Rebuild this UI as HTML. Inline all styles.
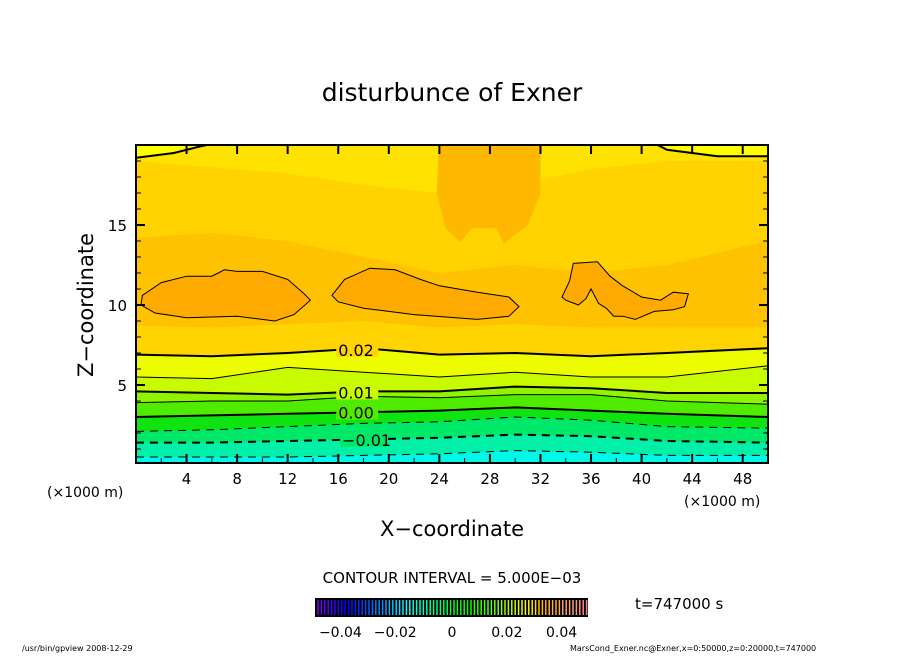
<!DOCTYPE html>
<html><head><meta charset="utf-8"><style>
body{margin:0;background:#fff;width:904px;height:654px;overflow:hidden}
svg text{font-family:"DejaVu Sans","Liberation Sans",sans-serif;fill:#000}
</style></head><body>
<svg id="chart" width="904" height="654" viewBox="0 0 904 654" xmlns="http://www.w3.org/2000/svg">
<defs><clipPath id="pc"><rect x="136" y="145" width="632" height="318"/></clipPath></defs>
<g id="field" clip-path="url(#pc)"></g>
<g id="axes"></g>
<text x="452" y="101" font-size="25" text-anchor="middle">disturbunce of Exner</text>
<text transform="translate(93,305) rotate(-90)" font-size="21" text-anchor="middle">Z−coordinate</text>
<text x="452" y="536" font-size="21" text-anchor="middle">X−coordinate</text>
<text x="47" y="497" font-size="14">(×1000 m)</text>
<text x="684" y="506" font-size="14">(×1000 m)</text>
<text x="452" y="583" font-size="15" text-anchor="middle">CONTOUR INTERVAL = 5.000E−03</text>
<text x="635" y="609" font-size="15">t=747000 s</text>
<rect x="315" y="598" width="273" height="19" fill="#000"/>
<g id="cbar"></g>
<g id="cbl" font-size="14" text-anchor="middle"></g>
<text x="22" y="651" font-size="8">/usr/bin/gpview   2008-12-29</text>
<text x="570" y="651" font-size="8">MarsCond_Exner.nc@Exner,x=0:50000,z=0:20000,t=747000</text>
</svg>
<script>
const xs=[0,6,12,18,24,30,36,42,50];
const lowLevels=[-0.015,-0.01,-0.005,0,0.005,0.01,0.015,0.02,0.025];
const lowZ=[
[0.5,0.5,0.5,0.6,0.7,0.9,0.8,0.6,0.6],
[1.4,1.4,1.5,1.6,1.7,1.9,1.8,1.5,1.4],
[2.1,2.2,2.4,2.6,2.7,3.0,2.8,2.4,2.3],
[3.0,3.1,3.2,3.3,3.4,3.6,3.4,3.2,3.0],
[3.9,4.0,4.0,4.3,4.2,4.4,4.4,4.0,3.8],
[4.6,4.5,4.4,4.6,4.6,4.9,4.8,4.5,4.5],
[5.5,5.4,6.1,5.8,5.5,5.8,5.5,5.5,6.2],
[6.9,6.8,7.0,7.3,6.9,7.0,6.8,7.0,7.3],
[8.7,8.6,8.8,9.0,8.6,8.8,8.6,8.6,8.6]];
const lowColors=['#00f8e8','#00f0a8','#00e868','#10e410','#50ec00','#90f400','#c8fa00','#eefc00','#ffd400'];
const upLevels=[0.025,0.02];
const upZ=[[14.2,14.5,14,13,12,12.5,12,12.5,14],[19,18.6,18.2,17.5,17,17.5,18.5,19,19]];
const upColors=['#ffd200','#ffe200'];
const topLineLeft=[[0,19.2],[3,19.5],[5,19.9],[6.8,20.2]];
const topLineRight=[[40.8,20.2],[42,19.7],[46,19.3],[50,19.3]];
const blobs=[
[[0.5,10.6],[2,11.4],[4,11.8],[6,11.8],[7,12.2],[8,12.1],[10,12.1],[12,11.6],[13.3,10.7],[13.8,10.3],[12.5,9.4],[11,9.0],[8,9.3],[4,9.2],[1.5,9.5],[0.4,10.0]],
[[15.5,10.6],[16.5,11.6],[18.5,12.3],[20.5,12.2],[22.5,11.6],[24,11.2],[27,10.8],[29.5,10.5],[30.3,9.9],[29.5,9.3],[27,9.1],[22,9.4],[18,9.8],[16,10.2]],
[[33.7,10.5],[34.3,11.5],[34.6,12.6],[36.5,12.7],[37.5,11.8],[38.5,11.2],[40,10.5],[41.5,10.3],[42.5,10.8],[43.7,10.7],[43.4,9.9],[42.5,9.7],[41,9.6],[39.5,9.1],[38.5,9.3],[37.8,9.3],[37.2,9.8],[36.6,10.1],[36.0,11.0],[35.6,10.4],[35,10.0],[34,10.3]]];
const topBlob=[[24,20.5],[23.8,17],[24.5,14.8],[26,13.7],[29,13.8],[31,15],[32,17],[32,20.5]];
const lightSpot=[[25.7,13.9],[26.5,14.8],[28.5,14.8],[29.1,13.8],[28.5,13],[26.5,13]];
const xTicks=[4,8,12,16,20,24,28,32,36,40,44,48];
const yTicks=[5,10,15];
const cbTicks=[-0.04,-0.02,0,0.02,0.04];
const cbLabels=['−0.04','−0.02','0','0.02','0.04'];

const NS='http://www.w3.org/2000/svg';
const X=v=>136+v*12.64, Y=v=>465-v*16;
const field=document.getElementById('field'), axes=document.getElementById('axes');
function mk(tag,attrs,parent){const e=document.createElementNS(NS,tag);for(const k in attrs)e.setAttribute(k,attrs[k]);parent.appendChild(e);return e;}
function line(zs){return xs.map((x,i)=>X(x).toFixed(1)+','+Y(zs[i]).toFixed(1));}
function pts(arr){return arr.map(p=>X(p[0]).toFixed(1)+','+Y(p[1]).toFixed(1)).join(' ');}
let bg=mk('rect',{x:136,y:145,width:632,height:318,fill:'#ffc200'},field);


for(let i=lowLevels.length-1;i>=0;i--){
  const p=line(lowZ[i]).concat([X(50)+','+Y(-1),X(0)+','+Y(-1)]);
  const e=mk('polygon',{points:p.join(' '),fill:lowColors[i]},field);
  
  
}
for(let i=0;i<upLevels.length;i++){
  const p=line(upZ[i]).concat([X(50)+','+Y(21),X(0)+','+Y(21)]);
  const e=mk('polygon',{points:p.join(' '),fill:upColors[i]},field);
  
  
}
let tb=mk('polygon',{points:pts(topBlob),fill:'#ffb800'},field);


let ls=mk('polygon',{points:pts(lightSpot),fill:'#ffd400'},field);


const tl1=mk('polygon',{points:pts(topLineLeft.concat([[6.8,21],[0,21]])),fill:'#ffff00'},field);


const tl2=mk('polygon',{points:pts(topLineRight.concat([[50,21],[40,21]])),fill:'#ffff00'},field);


[topLineLeft,topLineRight].forEach((a,i)=>{const e=mk('polyline',{points:pts(a),fill:'none',stroke:'#000','stroke-width':2},field);

});
blobs.forEach((b,i)=>{const e=mk('polygon',{points:pts(b),fill:'#ffaa00',stroke:'#000','stroke-width':1},field);

});
lowLevels.forEach((lv,i)=>{
  if(lv>=0.025)return;
  const major=Math.abs(Math.round(lv*1000)%10)===0;
  const a={points:line(lowZ[i]).join(' '),fill:'none',stroke:'#000','stroke-width':major?2:1};
  if(lv<0)a['stroke-dasharray']='8,6';
  const e=mk('polyline',a,field);
  
  
  if(major){
    const lx=(lv<0)?16.3:16;
    const j=Math.floor(lx/6), f=(lx-xs[j])/(xs[j+1]-xs[j]);
    const z=lowZ[i][j]*(1-f)+lowZ[i][j+1]*f;
    const w=lv<0?48:42;
    const r=mk('rect',{x:X(lx)-2,y:Y(z)-7,width:w,height:14,fill:lowColors[i+1]},field);
    
    
    const t=mk('text',{x:X(lx),y:Y(z)+6,'font-size':16},field);
    t.textContent=(lv<0?'−':'')+Math.abs(lv).toFixed(2);
    
    
  }
});
let fr=mk('rect',{x:136,y:145,width:632,height:318,fill:'none',stroke:'#000','stroke-width':2},axes);


for(let v=2;v<50;v+=2){const maj=v%4===0;
  const e=mk('line',{x1:X(v),x2:X(v),y1:463,y2:463-(maj?9:5),stroke:'#000','stroke-width':maj?2:1},axes);
  
  
  if(maj){const e2=mk('line',{x1:X(v),x2:X(v),y1:145,y2:154,stroke:'#000','stroke-width':2},axes);
  
  }}
for(let v=1;v<20;v++){const maj=v%5===0;
  const e=mk('line',{x1:136,x2:136+(maj?9:5),y1:Y(v),y2:Y(v),stroke:'#000','stroke-width':maj?2:1},axes);
  
  
  const e2=mk('line',{x1:768,x2:768-(maj?9:5),y1:Y(v),y2:Y(v),stroke:'#000','stroke-width':maj?2:1},axes);
  
  }
xTicks.forEach(v=>{const t=mk('text',{x:X(v),y:484,'font-size':15,'text-anchor':'middle'},axes);t.textContent=v;

});
yTicks.forEach(v=>{const t=mk('text',{x:127,y:Y(v)+6,'font-size':15,'text-anchor':'end'},axes);t.textContent=v;

});
const cb=document.getElementById('cbar');
function cx(v){return 452+v/0.05*137;}
for(let k=0;k<80;k++){const f=k/79;
  const hue=270-f*270, light=f>0.85?60+(f-0.85)*150:50;
  const e=mk('line',{x1:318+k*3.4,x2:318+k*3.4,y1:600,y2:615,stroke:`hsl(${hue},100%,${Math.min(light,75)}%)`,'stroke-width':1.5},cb);
  
  }
const cbl=document.getElementById('cbl');
cbTicks.forEach((v,i)=>{const t=mk('text',{x:cx(v)+(v<0?-2:0),y:637},cbl);t.textContent=cbLabels[i];

});
</script>
</body></html>
